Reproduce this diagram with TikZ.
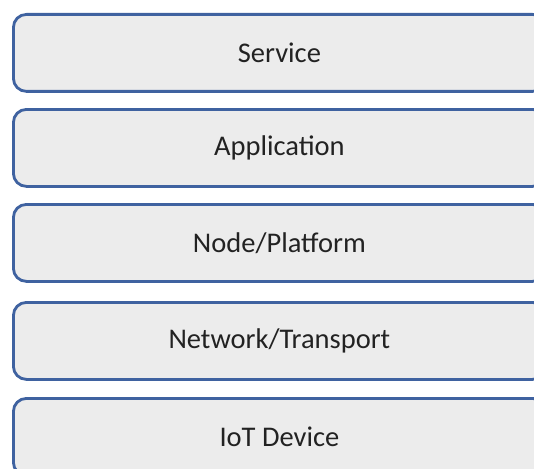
\documentclass[tikz,border=0pt]{standalone}
\usepackage{fontspec}
\setmainfont{Carlito}
\definecolor{boxblue}{HTML}{3F62A0}
\definecolor{boxfill}{HTML}{ECECEC}
\definecolor{txt}{HTML}{222222}
\begin{document}
\begin{tikzpicture}[x=1pt,y=-1pt,
  layer/.style={draw=boxblue, line width=2.8pt, fill=boxfill, rounded corners=13pt,
    minimum width=532pt, minimum height=77pt, inner sep=0pt, anchor=north west,
    text=txt, font=\fontsize{28.5}{32}\selectfont}]
\useasboundingbox (0,0) rectangle (534,468);
\begin{scope}
\clip (0,0) rectangle (534,468);
\node[layer] (service) at (12,13) {Service};
\node[layer] (app) at (12,108) {Application};
\node[layer] (node) at (12,203) {Node/Platform};
\node[layer] (net) at (12,301) {Network/Transport};
\node[layer] (iot) at (12,397) {IoT Device};
\end{scope}
\end{tikzpicture}
\end{document}
